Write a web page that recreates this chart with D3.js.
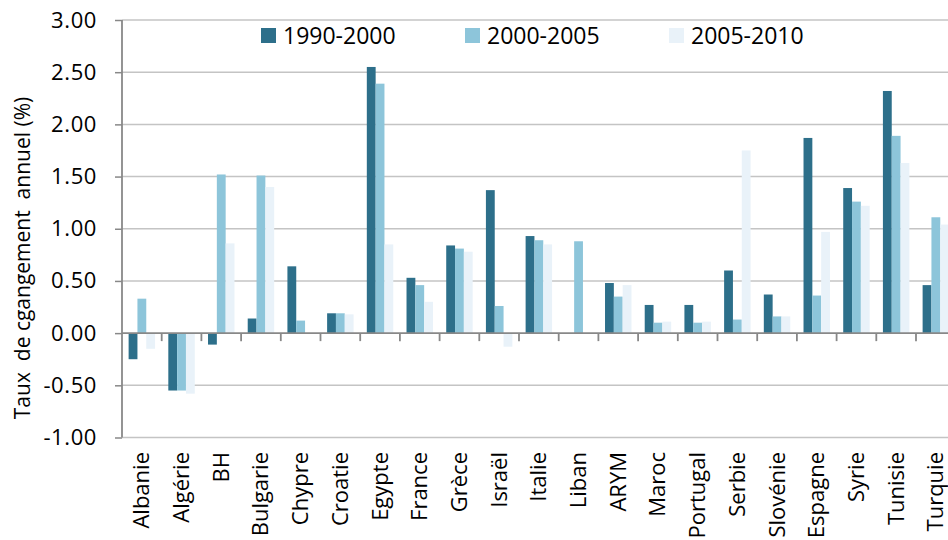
<!DOCTYPE html>
<html>
<head>
<meta charset="utf-8">
<script src="https://cdn.jsdelivr.net/npm/d3@7"></script>
<style>
html,body{margin:0;padding:0;background:#fff;overflow:hidden;}
svg{display:block;}
text{font-family:"Open Sans",sans-serif;fill:#000;}
</style>
</head>
<body>
<svg id="chart" width="948" height="540"></svg>
<script>
const categories = ["Albanie","Algérie","BH","Bulgarie","Chypre","Croatie","Egypte","France","Grèce","Israël","Italie","Liban","ARYM","Maroc","Portugal","Serbie","Slovénie","Espagne","Syrie","Tunisie","Turquie"];
const seriesNames = ["1990-2000","2000-2005","2005-2010"];
const s1990_2000 = [-0.25,-0.55,-0.11,0.14,0.64,0.19,2.55,0.53,0.84,1.37,0.93,0.00,0.48,0.27,0.27,0.60,0.37,1.87,1.39,2.32,0.46];
const s2000_2005 = [0.33,-0.55,1.52,1.51,0.12,0.19,2.39,0.46,0.81,0.26,0.89,0.88,0.35,0.10,0.10,0.13,0.16,0.36,1.26,1.89,1.11];
const s2005_2010 = [-0.15,-0.58,0.86,1.40,0.00,0.18,0.85,0.30,0.78,-0.13,0.85,0.00,0.46,0.11,0.11,1.75,0.16,0.97,1.22,1.63,1.04];
const yTicks = [-1.00,-0.50,0.00,0.50,1.00,1.50,2.00,2.50,3.00];
const colors = ["#2d6f8a","#8dc5da","#e9f2f9"];

const series = [s1990_2000, s2000_2005, s2005_2010];
const svg = d3.select("#chart");

const left = 122, bandW = 39.7;
const x = d3.scaleBand().domain(categories).range([left, left + categories.length * bandW]).padding(0);
const inner = d3.scaleBand().domain(seriesNames).range([bandW * 0.1667, bandW * (1 - 0.1667)]).padding(0);
const y = d3.scaleLinear().domain([-1, 3]).range([437.5, 20]);

// gridlines
svg.append("g").selectAll("line").data(yTicks.filter(d => d !== 0)).join("line")
  .attr("x1", left).attr("x2", 948)
  .attr("y1", d => y(d)).attr("y2", d => y(d))
  .attr("stroke", "#c4c4c4").attr("stroke-width", 1.5);

// bars
series.forEach((vals, si) => {
  svg.append("g").selectAll("rect").data(vals).join("rect")
    .attr("x", (d, i) => x(categories[i]) + inner(seriesNames[si]))
    .attr("width", inner.bandwidth())
    .attr("y", d => y(Math.max(0, d)))
    .attr("height", d => Math.abs(y(d) - y(0)))
    .attr("fill", colors[si]);
});

// x axis line at zero with boundary ticks
svg.append("line").attr("x1", left).attr("x2", 948).attr("y1", y(0)).attr("y2", y(0))
  .attr("stroke", "#888").attr("stroke-width", 1.8);
svg.append("g").selectAll("line").data(categories).join("line")
  .attr("x1", d => x(d) + x.bandwidth()).attr("x2", d => x(d) + x.bandwidth())
  .attr("y1", y(0)).attr("y2", y(0) + 8)
  .attr("stroke", "#888").attr("stroke-width", 1.8);

// y axis
const fmt = d3.format(".2f");
const yAxis = d3.axisLeft(y).tickValues(yTicks).tickFormat(d => fmt(d).replace("\u2212", "-")).tickSize(7).tickPadding(18);
const yg = svg.append("g").attr("transform", `translate(${left},0)`).call(yAxis);
yg.select(".domain").attr("stroke", "#888").attr("stroke-width", 1.8).attr("d", `M-0,${y(3)}V${y(-1)}`);
yg.selectAll(".tick line").attr("stroke", "#888").attr("stroke-width", 1.5);
yg.selectAll(".tick text").attr("font-size", 22).attr("font-family", "Open Sans").attr("fill", "#000").attr("letter-spacing", 0.6);

// x labels
svg.append("g").selectAll("text").data(categories).join("text")
  .attr("transform", d => `translate(${x(d) + x.bandwidth() / 2 + 7.5},452) rotate(-90)`)
  .attr("text-anchor", "end")
  .attr("font-size", 22)
  .text(d => d);

// y title
svg.append("text")
  .attr("transform", "translate(30,258) rotate(-90)")
  .attr("text-anchor", "middle")
  .attr("font-size", 21)
  .attr("xml:space", "preserve")
  .style("white-space", "pre")
  .text("Taux  de cgangement  annuel (%)");

// legend
const legX = [261, 465, 669];
seriesNames.forEach((n, i) => {
  svg.append("rect").attr("x", legX[i]).attr("y", 28).attr("width", 15).attr("height", 15).attr("fill", colors[i]);
  svg.append("text").attr("x", legX[i] + 22).attr("y", 43.5).attr("font-size", 23).text(n);
});
</script>
</body>
</html>
